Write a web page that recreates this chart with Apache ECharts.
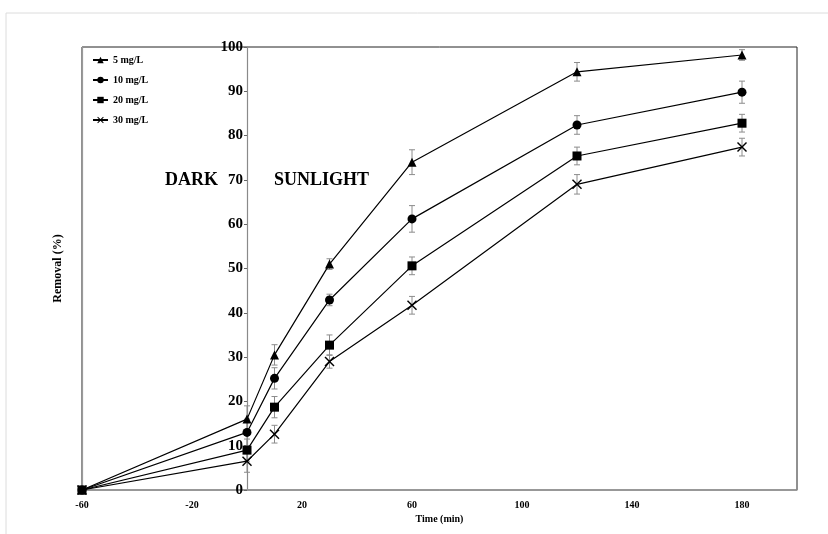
<html>
<head>
    <meta charset="utf-8">
    <title>Removal vs time</title>
    <script src="https://cdn.jsdelivr.net/npm/echarts@6/dist/echarts.min.js"></script>
</head>
<body style="margin:0;background:#fff">
    <div id="main" style="width:828px;height:534px"></div>
    <script type="text/javascript">
        // time points (min), dark phase starts at -60
        var times = [-60, 0, 10, 30, 60, 120, 180];
        var seriesNames = ['5 mg/L', '10 mg/L', '20 mg/L', '30 mg/L'];
        var removal5  = [0, 16.0, 30.5, 51.0, 74.0, 94.4, 98.2];
        var removal10 = [0, 13.0, 25.2, 42.9, 61.2, 82.4, 89.8];
        var removal20 = [0, 9.0, 18.7, 32.7, 50.6, 75.4, 82.8];
        var removal30 = [0, 6.5, 12.6, 29.0, 41.7, 69.0, 77.4];
        // +/- error
        var err5  = [0, 3.0, 2.3, 1.2, 2.8, 2.1, 1.2];
        var err10 = [0, 3.0, 2.4, 1.3, 3.0, 2.1, 2.5];
        var err20 = [0, 2.5, 2.4, 2.3, 2.0, 2.0, 2.0];
        var err30 = [0, 2.5, 2.0, 1.5, 2.0, 2.2, 2.0];

        var font = 'Liberation Serif';
        var gridLeft = 82, gridRight = 31;
        // shift the labelled y axis in to where time = 0 sits
        var zeroShift = (828 - gridLeft - gridRight) * 60 / 260;

        var myChart = echarts.init(document.getElementById('main'));

        function pairs(ys) {
            return times.map(function (t, i) { return [t, ys[i]]; });
        }
        function errData(ys, es) {
            var out = [];
            for (var i = 0; i < times.length; i++) {
                if (es[i] > 0) out.push([times[i], ys[i] - es[i], ys[i] + es[i]]);
            }
            return out;
        }
        function errSeries(ys, es) {
            return {
                type: 'custom',
                silent: true,
                z: 1,
                data: errData(ys, es),
                renderItem: function (params, api) {
                    var lo = api.coord([api.value(0), api.value(1)]);
                    var hi = api.coord([api.value(0), api.value(2)]);
                    var w = 3;
                    var st = { stroke: '#8c8c8c', lineWidth: 1 };
                    return {
                        type: 'group',
                        children: [
                            { type: 'line', shape: { x1: lo[0], y1: lo[1], x2: hi[0], y2: hi[1] }, style: st },
                            { type: 'line', shape: { x1: lo[0] - w, y1: lo[1], x2: lo[0] + w, y2: lo[1] }, style: st },
                            { type: 'line', shape: { x1: hi[0] - w, y1: hi[1], x2: hi[0] + w, y2: hi[1] }, style: st }
                        ]
                    };
                }
            };
        }
        function lineSeries(name, ys, symbol, size) {
            return {
                name: name,
                type: 'line',
                z: 3,
                data: pairs(ys),
                symbol: symbol,
                symbolSize: size,
                showAllSymbol: true,
                lineStyle: { color: '#000', width: 1.2 },
                itemStyle: { color: '#000' }
            };
        }
        var crossPath = 'path://M0,1 L1,0 L5,4 L9,0 L10,1 L6,5 L10,9 L9,10 L5,6 L1,10 L0,9 L4,5 Z';

        var option = {
            animation: false,
            backgroundColor: '#fff',
            grid: {
                left: gridLeft, right: gridRight, top: 47, bottom: 44,
                show: true, borderColor: '#222', borderWidth: 1
            },
            legend: {
                data: seriesNames,
                orient: 'vertical',
                left: 87, top: 50,
                itemWidth: 15, itemHeight: 8, itemGap: 10,
                textStyle: { fontFamily: font, fontWeight: 'bold', fontSize: 10, color: '#000' }
            },
            xAxis: {
                type: 'value',
                min: -60, max: 200, interval: 40,
                name: 'Time (min)',
                nameLocation: 'middle',
                nameGap: 24,
                nameTextStyle: { fontFamily: font, fontWeight: 'bold', fontSize: 10, color: '#000' },
                splitLine: { show: false },
                axisTick: { show: false },
                axisLine: { onZero: false, lineStyle: { color: '#9a9a9a', width: 1.5 } },
                axisLabel: {
                    showMaxLabel: false,
                    margin: 10,
                    fontFamily: font, fontWeight: 'bold', fontSize: 10, color: '#000'
                }
            },
            yAxis: [{
                type: 'value',
                position: 'left',
                offset: -zeroShift,
                min: 0, max: 100, interval: 10,
                splitLine: { show: false },
                axisLine: { show: true, onZero: false, lineStyle: { color: '#8a8a8a', width: 1.2 } },
                axisTick: { show: true, inside: false, length: 3, lineStyle: { color: '#666' } },
                axisLabel: { margin: 4, fontFamily: font, fontWeight: 'bold', fontSize: 15, color: '#000' }
            }, {
                type: 'value',
                position: 'left',
                offset: 0,
                min: 0, max: 100,
                name: 'Removal (%)',
                nameLocation: 'middle',
                nameGap: 18,
                nameTextStyle: { fontFamily: font, fontWeight: 'bold', fontSize: 12, color: '#000' },
                splitLine: { show: false },
                axisLine: { show: true, onZero: false, lineStyle: { color: '#9a9a9a', width: 1.2 } },
                axisTick: { show: false },
                axisLabel: { show: false }
            }],
            graphic: [
                { type: 'rect', shape: { x: 6, y: 13, width: 840, height: 540 }, style: { fill: 'none', stroke: '#dcdcdc', lineWidth: 1 }, z: -10 },
                { type: 'text', left: 165, top: 171, style: { text: 'DARK', fontFamily: font, fontWeight: 'bold', fontSize: 18, fill: '#000' } },
                { type: 'text', left: 274, top: 171, style: { text: 'SUNLIGHT', fontFamily: font, fontWeight: 'bold', fontSize: 18, fill: '#000' } }
            ],
            series: [
                errSeries(removal5, err5),
                errSeries(removal10, err10),
                errSeries(removal20, err20),
                errSeries(removal30, err30),
                lineSeries('30 mg/L', removal30, crossPath, 10),
                lineSeries('5 mg/L', removal5, 'triangle', 9),
                lineSeries('10 mg/L', removal10, 'circle', 9),
                lineSeries('20 mg/L', removal20, 'rect', 9)
            ]
        };
        myChart.setOption(option);
    </script>
</body>
</html>
